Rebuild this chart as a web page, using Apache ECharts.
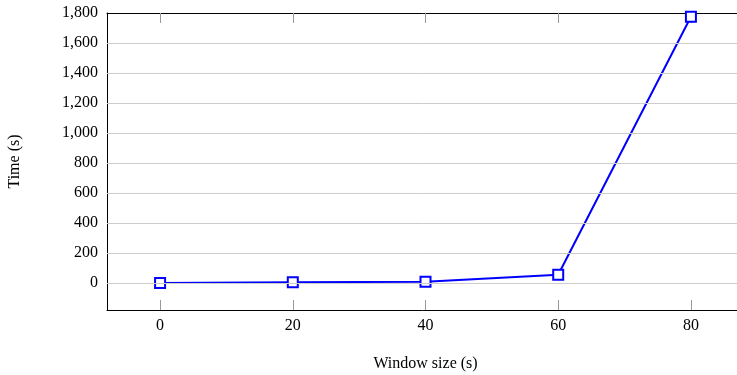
<!DOCTYPE html>
<html>
<head>
<meta charset="utf-8">
<script src="https://cdn.jsdelivr.net/npm/echarts@6/dist/echarts.min.js"></script>
<style>
  html, body { margin: 0; padding: 0; background: #fff; }
  #chart { width: 737px; height: 375px; }
</style>
</head>
<body>
<div id="chart"></div>
<script>
// Run time against window length
const windowSizes = [0, 20, 40, 60, 80];
const times = [0, 5, 8, 55, 1775];
const xTicks = [0, 20, 40, 60, 80];
const yTicks = [0, 200, 400, 600, 800, 1000, 1200, 1400, 1600, 1800];
const yGridValues = [0, 200, 400, 600, 800, 1000, 1200, 1400, 1600];

const FONT = '"Liberation Serif", "DejaVu Serif", serif';
const TICK = '#999999';
const fmt = v => v.toLocaleString('en-US');

const chart = echarts.init(document.getElementById('chart'), null, { renderer: 'canvas' });

const baseX = {
  type: 'value', min: -8, max: 88,
  splitLine: { show: false },
  axisLine: { show: true, onZero: false, lineStyle: { color: '#000', width: 1 } },
  axisTick: { show: true, inside: true, length: 10, customValues: xTicks, lineStyle: { color: TICK, width: 1 } }
};
const baseY = {
  type: 'value', min: -180, max: 1800,
  splitLine: { show: false },
  axisLine: { show: true, onZero: false, lineStyle: { color: '#000', width: 1 } },
  axisTick: { show: true, inside: true, length: 10, customValues: yGridValues, lineStyle: { color: TICK, width: 1 } }
};

chart.setOption({
  animation: false,
  backgroundColor: '#fff',
  // the frame runs a little past the right edge of the canvas
  grid: { left: 107, width: 637, top: 13, height: 297, containLabel: false, outerBoundsMode: 'none' },
  xAxis: [
    Object.assign({}, baseX, {
      position: 'bottom',
      name: 'Window size (s)', nameLocation: 'middle', nameGap: 46,
      nameTextStyle: { fontFamily: FONT, fontSize: 16, color: '#000' },
      axisLabel: { show: true, customValues: xTicks, margin: 8, fontFamily: FONT, fontSize: 16, color: '#000' }
    }),
    Object.assign({}, baseX, { position: 'top', axisLabel: { show: false } })
  ],
  yAxis: [
    Object.assign({}, baseY, {
      position: 'left',
      name: 'Time (s)', nameLocation: 'middle', nameGap: 84,
      nameTextStyle: { fontFamily: FONT, fontSize: 16, color: '#000' },
      axisLabel: { show: true, customValues: yTicks, margin: 9, formatter: fmt, fontFamily: FONT, fontSize: 16, color: '#000' }
    }),
    Object.assign({}, baseY, { position: 'right', axisLabel: { show: false } })
  ],
  series: [
    {
      // horizontal grid lines at the labelled values
      type: 'line', data: [], z: 1, silent: true,
      markLine: {
        silent: true, symbol: 'none', animation: false,
        label: { show: false },
        lineStyle: { color: '#cccccc', width: 1, type: 'solid' },
        data: yGridValues.map(v => ({ yAxis: v }))
      }
    },
    {
      type: 'line', z: 3,
      data: windowSizes.map((x, i) => [x, times[i]]),
      lineStyle: { color: '#0000ff', width: 2 },
      symbol: 'rect', symbolSize: 10, showAllSymbol: true,
      itemStyle: { color: '#ffffff', borderColor: '#0000ff', borderWidth: 2 }
    }
  ]
});
</script>
</body>
</html>
